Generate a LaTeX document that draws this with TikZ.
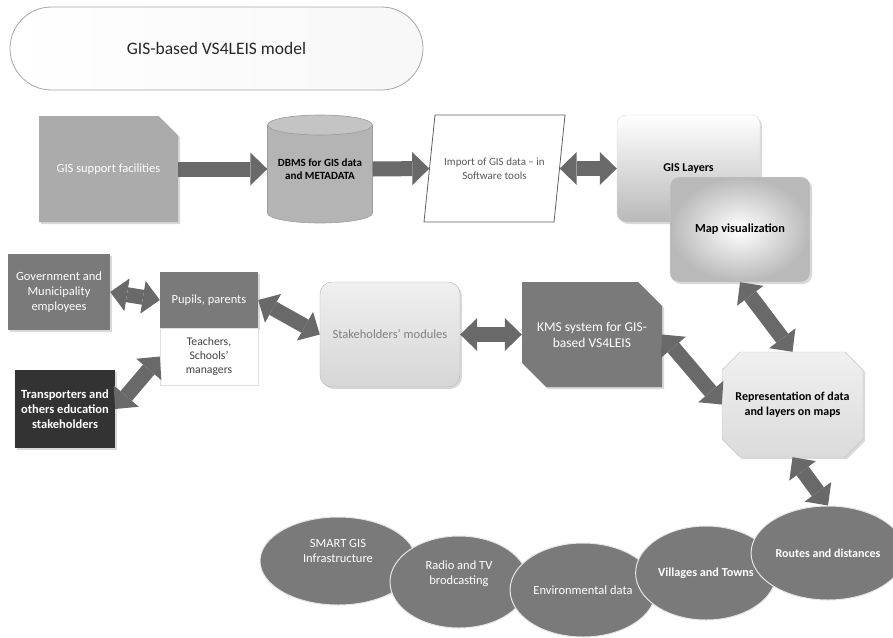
\documentclass[tikz,border=0pt]{standalone}
\usepackage{fontspec}
\setmainfont{Carlito}
\usetikzlibrary{shapes.misc,shapes.geometric,arrows.meta,shadows}

\definecolor{arrowgray}{HTML}{696969}
\definecolor{midgray}{HTML}{7A7A7A}
\definecolor{supportgray}{HTML}{ABABAB}
\definecolor{nightbox}{HTML}{333333}
\definecolor{cylgray}{HTML}{B4B4B4}
\definecolor{cyltop}{HTML}{C4C4C4}
\definecolor{edgegray}{HTML}{9C9C9C}

\begin{document}
\begin{tikzpicture}[x=1pt,y=-1pt,
  every node/.style={font=\fontsize{11}{13.5}\selectfont, align=center, inner sep=2pt},
  big/.style={font=\fontsize{12.5}{15}\selectfont},
  bigbold/.style={font=\fontsize{12.5}{15}\selectfont\bfseries},
  smallbold/.style={font=\fontsize{11}{13.5}\selectfont\bfseries},
  sz/.style 2 args={minimum width=#1, minimum height=#2},
  softshadow/.style={drop shadow={shadow xshift=2pt, shadow yshift=-2pt, opacity=0.15, fill=black}},
  heading/.style={rounded rectangle, draw=gray!70, line width=0.8pt,
    left color=white, right color=gray!6, text=black!85,
    font=\fontsize{17.5}{21}\selectfont},
  darkcell/.style={rectangle, fill=midgray, text=white, softshadow, big},
  snipbox/.style={chamfered rectangle, chamfered rectangle xsep=12pt,
    chamfered rectangle ysep=12pt, softshadow},
  oval/.style={ellipse, fill=midgray, draw=white!80!gray, line width=1pt, text=white, big},
  blockarrow/.style={draw=arrowgray, line width=15pt, -{Triangle[length=17pt, width=33pt, line width=0pt]}},
  blockarrows/.style={draw=arrowgray, line width=15pt,
    {Triangle[length=17pt, width=33pt, line width=0pt]}-{Triangle[length=17pt, width=33pt, line width=0pt]}}
]
\useasboundingbox (0,0) rectangle (893,637);

% title
\node[heading, sz={417pt}{83pt}] (title) at (216.5,48.5) {GIS-based VS4LEIS model};

% top row
\node[snipbox, chamfered rectangle corners=north east, fill=supportgray,
  text=white!95, sz={139pt}{106pt}, big] (gis) at (108.5,169) {GIS support facilities};

% database cylinder
\fill[cylgray] (267.5,125) -- (267.5,213)
  arc[start angle=180, end angle=360, x radius=52.5pt, y radius=10pt]
  -- (372.5,125)
  arc[start angle=0, end angle=180, x radius=52.5pt, y radius=10pt] -- cycle;
\draw[edgegray, line width=0.6pt] (267.5,125) -- (267.5,213)
  arc[start angle=180, end angle=360, x radius=52.5pt, y radius=10pt] -- (372.5,125);
\filldraw[fill=cyltop, draw=edgegray, line width=0.6pt] (320,125) ellipse [x radius=52.5pt, y radius=10pt];
\node[sz={105pt}{108pt}, smallbold] (dbms) at (320,169)
  {DBMS for GIS data\\and METADATA};

% import parallelogram
\filldraw[fill=white, draw=gray!75!black, line width=0.8pt]
  (435,115) -- (565,115) -- (554,222) -- (424,222) -- cycle;
\node[sz={130pt}{107pt}, text=black!65] (import) at (494.5,168.5)
  {Import of GIS data -- in\\Software tools};

\node[rectangle, rounded corners=9pt, sz={143pt}{107pt}, top color=white,
  bottom color=gray!55, draw=gray!30, softshadow,
  font=\fontsize{12}{14}\selectfont\bfseries] (layers) at (688.5,168.5) {GIS Layers};
\node[rectangle, rounded corners=9pt, sz={140pt}{105pt}, shading=radial,
  inner color=white, outer color=gray!55, draw=gray!30, softshadow,
  font=\fontsize{12.3}{14}\selectfont\bfseries] (map) at (740,229.5) {Map visualization};

% stakeholders
\node[darkcell, sz={102pt}{76pt}] (gov) at (59,292) {Government and\\Municipality\\employees};
\node[darkcell, sz={98pt}{56pt}] (pupils) at (209,300) {Pupils, parents};
\node[rectangle, fill=white, draw=gray!25, text=black!75, sz={98pt}{57pt},
  font=\fontsize{11.7}{14}\selectfont] (teachers)
  at (209,356.5) {Teachers,\\Schools’\\managers};
\node[rectangle, fill=nightbox, text=white, softshadow, sz={100pt}{78pt}, bigbold] (trans) at (65,409)
  {Transporters and\\others education\\stakeholders};

\node[rectangle, rounded corners=12pt, sz={140pt}{105pt}, top color=gray!12,
  bottom color=gray!32, draw=gray!60, text=black!50, softshadow, big] (stake) at (390,334.5)
  {Stakeholders’ modules};
\node[snipbox, chamfered rectangle corners={north east, south west}, fill=midgray,
  text=white, sz={140pt}{105pt}, font=\fontsize{13.5}{16}\selectfont] (kms) at (592,334.5)
  {KMS system for GIS-\\based VS4LEIS};
\node[snipbox, chamfered rectangle xsep=9pt, chamfered rectangle ysep=9pt,
  top color=gray!12, bottom color=gray!28, draw=gray!45, sz={141pt}{105pt},
  font=\fontsize{12}{15}\selectfont\bfseries] (rep) at (792.5,404.5)
  {Representation of data\\and layers on maps};

% data sources
\node[oval, sz={156pt}{88pt}] (smart) at (338,561) {SMART GIS\\Infrastructure\\[6pt]};
\node[oval, sz={138pt}{92pt}] (radio) at (459,582) {Radio and TV\\brodcasting\\[4pt]};
\node[oval, sz={134pt}{94pt}] (env) at (583,590) {Environmental data};
\node[oval, sz={138pt}{94pt}, font=\fontsize{12.2}{14}\selectfont\bfseries] (villages) at (706,573) {Villages and Towns};
\node[oval, sz={132pt}{94pt}, font=\fontsize{12}{14}\selectfont\bfseries] (routes) at (828,553) {Routes and distances};

% connectors
\draw[blockarrow] (gis.east) -- (dbms.west);
\draw[blockarrow] (dbms.east) -- (import.west);
\draw[blockarrows] (import.east) -- (layers.west);
\draw[blockarrows] (map.south) -- (rep.north);
\draw[blockarrows] (gov.east) -- (pupils.west);
\draw[blockarrows] (trans.east) -- (teachers.west);
\draw[blockarrows] (pupils.east) -- (stake.west);
\draw[blockarrows] (stake.east) -- (kms.west);
\draw[blockarrows] (kms.east) -- (rep.west);
\draw[blockarrows] (rep.south) -- (routes.north);
\end{tikzpicture}
\end{document}
